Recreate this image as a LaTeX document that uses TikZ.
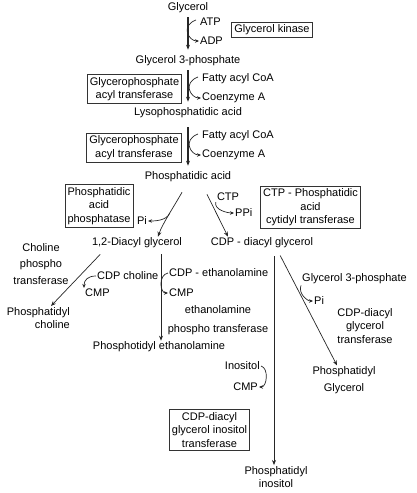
\documentclass[tikz,border=0pt]{standalone}
\usepackage{fontspec}
\setmainfont{Liberation Sans}
\usetikzlibrary{arrows.meta}

\begin{document}
\begin{tikzpicture}[
  x=1pt, y=-1pt,
  font=\fontsize{11}{13.5}\selectfont,
  >={Stealth[length=5pt,width=4pt]},
  t/.style={inner sep=1pt, align=center},
  enz/.style={draw=black!80, line width=0.8pt, inner sep=2.6pt, align=center},
  main/.style={->, draw=black!85, line width=1.2pt, shorten <=3pt, shorten >=5pt},
  rx/.style={->, draw=black!85, line width=0.7pt},
  side/.style={->, draw=black!85, line width=0.7pt, >={Stealth[length=4pt,width=3.5pt]}}
]
  \useasboundingbox (0,0) rectangle (417,493);
  % glycerol to phosphatidic acid
  \node[t] (gly) at (188,8) {Glycerol};
  \node[t,anchor=west] (atp) at (199,22) {ATP};
  \node[t,anchor=west] (adp) at (199,41) {ADP};
  \node[enz] (gk) at (272,30) {Glycerol kinase};
  \node[t] (g3p) at (188,61) {Glycerol 3-phosphate};
  \node[t,anchor=west] (fa1) at (201,79) {Fatty acyl CoA};
  \node[t,anchor=west] (coa1) at (201,98) {Coenzyme A};
  \node[enz] (gpat1) at (134.5,89) {Glycerophosphate\\acyl transferase};
  \node[t] (lpa) at (188,113) {Lysophosphatidic acid};
  \node[t,anchor=west] (fa2) at (201,136) {Fatty acyl CoA};
  \node[t,anchor=west] (coa2) at (201,155) {Coenzyme A};
  \node[enz] (gpat2) at (134,147.5) {Glycerophosphate\\acyl transferase};
  \node[t] (pa) at (188,177) {Phosphatidic acid};
  \draw[main] (gly) -- (g3p);
  \draw[side] ([xshift=-3pt,yshift=2pt]atp.west) .. controls +(-16,6) and +(-10,0) .. (adp.west);
  \draw[main] (g3p) -- (lpa);
  \draw[side] ([xshift=-3pt,yshift=2pt]fa1.west) .. controls +(-16,6) and +(-10,0) .. (coa1.west);
  \draw[main, shorten <=8pt] (lpa) -- (pa);
  \draw[side] ([xshift=-3pt,yshift=2pt]fa2.west) .. controls +(-16,6) and +(-10,0) .. (coa2.west);
  % branch point
  \node[enz] (pap) at (99,206) {Phosphatidic\\acid\\phosphatase};
  \node[t] (pi1) at (142,221) {Pi};
  \node[t] (ctp) at (228,197) {CTP};
  \node[t,anchor=west] (ppi) at (234,213) {PPi};
  \node[enz] (ctpt) at (310.5,207.5) {CTP - Phosphatidic\\acid\\cytidyl transferase};
  \node[t] (dag) at (137,243) {1,2-Diacyl glycerol};
  \node[t] (cdag) at (262,243) {CDP - diacyl glycerol};
  \draw[rx] ([xshift=-6pt,yshift=-9pt]pa.south) .. controls +(-8,14) and +(4,-12) .. coordinate[pos=0.45] (pab) ([xshift=21pt]dag.north);
  \draw[side] (pab) .. controls +(-3,8) and +(6,0) .. (pi1.east);
  \draw[rx] ([xshift=19pt,yshift=-11pt]pa.south) -- ([xshift=-34pt]cdag.north);
  \draw[side] (ctp.south west) .. controls +(-2,8) and +(-6,0) .. (ppi.west);
  % 1,2-diacyl glycerol
  \node[t] (cpt) at (41,264) {Choline\\[3pt]phospho\\[3pt]transferase};
  \node[t,anchor=west] (cdpc) at (96,276) {CDP choline};
  \node[t,anchor=west] (cmp1) at (84,293) {CMP};
  \node[t,align=right,anchor=east] (pc) at (71,318) {Phosphatidyl\\choline};
  \node[t,anchor=west] (cdpe) at (168,273) {CDP - ethanolamine};
  \node[t,anchor=west] (cmp2) at (168,293) {CMP};
  \node[t] (ept) at (218,320) {ethanolamine\\[5pt]phospho transferase};
  \node[t] (pe) at (159,347) {Phosphotidyl ethanolamine};
  \draw[rx, shorten <=7pt] ([xshift=-32pt]dag.south) -- ([xshift=-20pt]pc.north east);
  \draw[side] (cdpc.west) .. controls +(-8,0) and +(0,-8) .. (cmp1.north west);
  \draw[rx, shorten <=5pt] ([xshift=24pt]dag.south) -- ([xshift=2pt]pe.north);
  \draw[side] (cdpe.west) .. controls +(-10,2) and +(-8,0) .. (cmp2.west);
  % CDP-diacyl glycerol
  \node[t,anchor=west] (g3p2) at (301,279) {Glycerol 3-phosphate};
  \node[t,anchor=west] (pi2) at (313,301) {Pi};
  \node[t] (cgt) at (365,326) {CDP-diacyl\\glycerol\\transferase};
  \node[t] (pg) at (344,380) {Phosphatidyl\\[3pt]Glycerol};
  \node[t,anchor=east] (ino) at (261,366) {Inositol};
  \node[t,anchor=east] (cmp3) at (259,387) {CMP};
  \node[enz] (cgit) at (209.5,430) {CDP-diacyl\\glycerol inositol\\transferase};
  \node[t] (pin) at (276,477) {Phosphatidyl\\inositol};
  \draw[rx, shorten <=7pt] ([xshift=15pt]cdag.south) -- ([xshift=-7pt]pg.north);
  \draw[side] (g3p2.south west) .. controls +(-3,8) and +(-6,0) .. (pi2.west);
  \draw[rx, shorten <=7pt] ([xshift=12pt]cdag.south) -- ([xshift=-2pt]pin.north);
  \draw[side] (ino.east) .. controls +(8,2) and +(8,0) .. (cmp3.east);
\end{tikzpicture}
\end{document}
